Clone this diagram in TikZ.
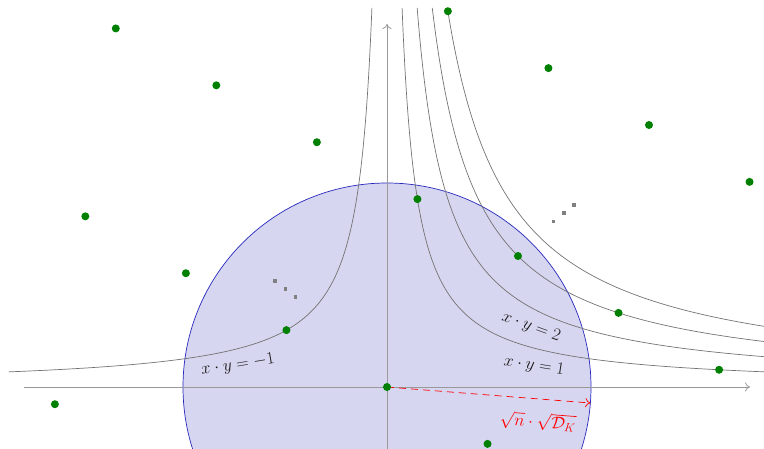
\documentclass[tikz,border=0pt]{standalone}
\usetikzlibrary{arrows.meta}
\definecolor{diskfill}{RGB}{214,214,240}
\definecolor{diskline}{RGB}{40,40,190}
\begin{document}
\begin{tikzpicture}[x=1pt,y=1pt,
  axis/.style={draw=black!40, line width=0.8pt, -{To[length=5pt,width=9pt]}},
  hyp/.style={draw=black!55, line width=0.7pt},
  latpt/.style={circle, fill=green!50!black, inner sep=0pt, minimum size=8pt},
  lbl/.style={font=\fontsize{17.5}{20}\selectfont, text=black!90, inner sep=0pt},
  dotsq/.style={fill=black!50},
]
\useasboundingbox (-387,-61) rectangle (377,387);
\coordinate (O) at (0,0);
% disk
\fill[diskfill, draw=diskline, line width=0.7pt] (O) circle (204);
% axes
\coordinate (xl) at (-363,0);
\coordinate (xr) at (363,0);
\coordinate (yb) at (0,-70);
\coordinate (yt) at (0,363);
\draw[axis] (xl) -- (xr);
\draw[axis] (yb) -- (yt);
% hyperbolas x*y = k
\foreach \k in {1,2,3,4}{
  \pgfmathsetmacro\tlo{ln(\k*57.2/3.79)}
  \pgfmathsetmacro\thi{ln(380)}
  \draw[hyp] plot[domain=\tlo:\thi, samples=160, variable=\t, smooth]
    ({exp(\t)},{\k*57.2*(100/exp(\t))});
}
% hyperbola x*y = -1
\pgfmathsetmacro\tlo{ln(57.2/3.79)}
\pgfmathsetmacro\thi{ln(379)}
\draw[hyp] plot[domain=\tlo:\thi, samples=160, variable=\t, smooth]
  ({-exp(\t)},{57.2*(100/exp(\t))});
% labels
\node[lbl, rotate=-20] (l2) at (144,60) {$x\cdot y=2$};
\node[lbl, rotate=-9] (l1) at (147,21) {$x\cdot y=1$};
\node[lbl, rotate=9.5] (lm1) at (-149,22) {$x\cdot y=-1$};
% dots
\foreach \p in {(-112,106),(-101.5,98),(-91.5,90),(187,182),(177,174),(166.5,165.5)}
  \fill[dotsq] \p ++(-1.6,-1.6) rectangle ++(3.2,3.2);
% red arrow
\coordinate (R) at (-4.5:204);
\draw[red, line width=0.7pt, dash pattern=on 7pt off 5pt, -{To[length=5pt,width=9pt]}] (O) -- (R);
\node[font=\fontsize{18.5}{22}\selectfont, text=red, rotate=-4.5, inner sep=0pt] (rl) at (151,-35)
  {$\sqrt{n}\cdot\sqrt{\mathcal{D}_K}$};
% lattice points
\foreach \i/\j in {0/0,1/0,-1/0,-2/0,-3/0,-3/1,-2/1,-1/1,0/1,1/1,2/1,3/1,0/2,1/2,2/2,3/2,-3/-1}{
  \node[latpt] (pt\i\j) at ({\i*100.555+\j*30.445},{\i*(-56.888)+\j*187.888}) {};
}
\end{tikzpicture}
\end{document}
